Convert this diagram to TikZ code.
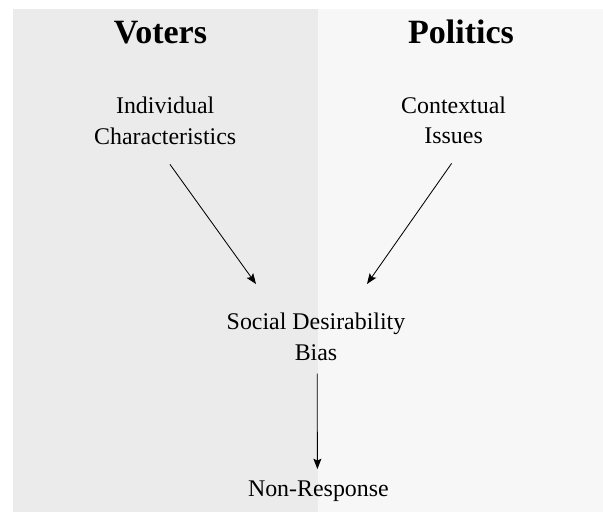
\documentclass[tikz,border=0pt]{standalone}
\usepackage{fontspec}
\setmainfont{Liberation Serif}
\usetikzlibrary{arrows.meta}
\definecolor{votersbg}{HTML}{EBEBEB}
\definecolor{politicsbg}{HTML}{F7F7F7}

\begin{document}
\begin{tikzpicture}[
	txt/.style={inner sep=0pt, align=center, font=\fontsize{17}{21.8}\selectfont},
	head/.style={inner sep=0pt, font=\fontsize{24.2}{29}\selectfont\bfseries},
	arr/.style={-{Stealth[length=0.26cm, width=0.2cm, inset=0.05cm]}, line width=0.6pt}
	]
		\useasboundingbox (0,0) rectangle (15.075,-12.825);
		\fill[votersbg] (0.325,-0.225) rectangle (7.95,-12.8);
		\fill[politicsbg] (7.95,-0.225) rectangle (15.075,-12.8);
		\node (voters)[head, anchor=base] at (4.01,-1.10) {Voters};
		\node (politics)[head, anchor=base] at (11.525,-1.10) {Politics};
		\node (indiv)[txt, anchor=north] at (4.13,-2.42) {Individual\\Characteristics};
		\node (context)[txt, anchor=north] at (11.34,-2.405) {Contextual\\Issues};
		\node (sdb)[txt, anchor=north] at (7.90,-7.815) {Social Desirability\\Bias};
		\node (nonresp)[txt, anchor=base] at (7.96,-12.42) {Non-Response};
		\draw[arr] ([shift={(0.12,-0.49)}]indiv.south)--([shift={(-1.5,0.715)}]sdb.north);
		\draw[arr] ([shift={(-0.05,-0.48)}]context.south)--([shift={(1.275,0.715)}]sdb.north);
		\draw[arr] ([shift={(0.03,-0.325)}]sdb.south)--([shift={(-0.025,0.295)}]nonresp.north);
	\end{tikzpicture}
\end{document}
